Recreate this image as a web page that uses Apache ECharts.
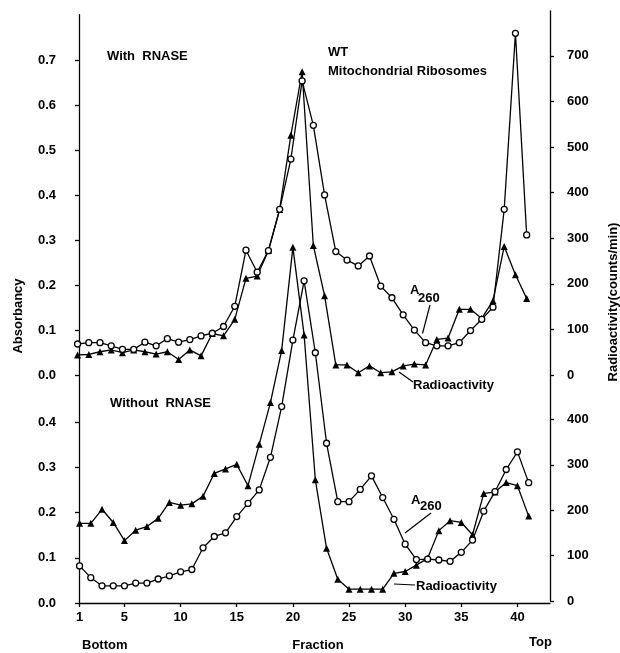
<!DOCTYPE html>
<html>
<head>
<meta charset="utf-8">
<script src="https://cdn.jsdelivr.net/npm/echarts@6/dist/echarts.min.js"></script>
<style>
  html, body { margin: 0; padding: 0; background: #fff; }
  #chart { width: 620px; height: 653px; }
</style>
</head>
<body>
<div id="chart"></div>
<script>
// fraction numbers 1..41 (bottom of gradient -> top)
const fractions = [1, 2, 3, 4, 5, 6, 7, 8, 9, 10, 11, 12, 13, 14, 15, 16, 17, 18, 19, 20,
  21, 22, 23, 24, 25, 26, 27, 28, 29, 30, 31, 32, 33, 34, 35, 36, 37, 38, 39, 40, 41];
const fractionTicks = [1, 5, 10, 15, 20, 25, 30, 35, 40];
const absTicksTop = [0, 0.1, 0.2, 0.3, 0.4, 0.5, 0.6, 0.7];
const absTicksBottom = [0, 0.1, 0.2, 0.3, 0.4];
const cpmTicksTop = [0, 100, 200, 300, 400, 500, 600, 700];
const cpmTicksBottom = [0, 100, 200, 300, 400];

// With RNASE
const withA260 = [0.069, 0.072, 0.072, 0.065, 0.057, 0.057, 0.073, 0.065, 0.081, 0.073,
  0.079, 0.087, 0.093, 0.108, 0.153, 0.278, 0.229, 0.277, 0.369, 0.481,
  0.655, 0.556, 0.401, 0.275, 0.256, 0.243, 0.265, 0.198, 0.172, 0.134,
  0.100, 0.072, 0.065, 0.065, 0.072, 0.099, 0.124, 0.151, 0.369, 0.761, 0.312];
const withCpm = [44, 45, 51, 55, 49, 55, 51, 46, 51, 34,
  55, 42, 91, 86, 122, 212, 217, 273, 363, 526,
  665, 284, 174, 22, 22, 5, 20, 5, 7, 20,
  24, 22, 78, 81, 144, 144, 124, 163, 282, 220, 168];

// Without RNASE
const withoutA260 = [0.082, 0.056, 0.038, 0.038, 0.038, 0.044, 0.044, 0.053, 0.060, 0.069,
  0.074, 0.122, 0.147, 0.155, 0.191, 0.220, 0.250, 0.322, 0.434, 0.581,
  0.712, 0.553, 0.353, 0.224, 0.224, 0.251, 0.281, 0.233, 0.185, 0.130,
  0.096, 0.097, 0.095, 0.092, 0.112, 0.139, 0.203, 0.246, 0.295, 0.334, 0.266];
const withoutCpm = [171, 171, 202, 173, 133, 156, 164, 182, 217, 211,
  214, 231, 281, 291, 301, 254, 345, 437, 552, 779,
  586, 267, 116, 48, 26, 26, 26, 26, 61, 65,
  79, 94, 155, 177, 173, 146, 237, 240, 261, 254, 187];

const FONT = 'Liberation Sans';
const chart = echarts.init(document.getElementById('chart'));

const pairs = (vals) => fractions.map((f, i) => [f, vals[i]]);

function xAxis(gridIndex, show) {
  return {
    type: 'value', gridIndex, min: 0.95, max: 42.9,
    show,
    axisLine: { show, lineStyle: { color: '#000', width: 1.3 } },
    axisTick: { show, customValues: fractionTicks, length: 4, lineStyle: { color: '#000', width: 1.3 } },
    axisLabel: { show, customValues: fractionTicks, margin: 8, color: '#000',
      fontFamily: FONT, fontSize: 13, fontWeight: 'bold' },
    splitLine: { show: false }
  };
}

function yAxis(gridIndex, position, max, ticks, opts) {
  const left = position === 'left';
  return {
    type: 'value', gridIndex, position, min: 0, max,
    offset: opts.offset || 0,
    axisLine: { show: !!opts.line, lineStyle: { color: '#000', width: 1.3 } },
    axisTick: { show: true, customValues: ticks, length: 4, lineStyle: { color: '#000', width: 1.3 } },
    axisLabel: {
      customValues: ticks, color: '#000', fontFamily: FONT, fontSize: 13, fontWeight: 'bold',
      margin: left ? 23 : 17,
      padding: left ? 0 : [0, 0, 8, 0],
      formatter: left ? (v) => v.toFixed(1) : (v) => String(v)
    },
    splitLine: { show: false }
  };
}

function a260Series(vals, idx) {
  return {
    type: 'line', xAxisIndex: idx, yAxisIndex: idx, data: pairs(vals),
    symbol: 'circle', symbolSize: 6, z: 4,
    itemStyle: { color: '#fff', borderColor: '#000', borderWidth: 1.3 },
    lineStyle: { color: '#000', width: 1.3 }
  };
}

function cpmSeries(vals, idx) {
  return {
    type: 'line', xAxisIndex: idx, yAxisIndex: idx, data: pairs(vals),
    symbol: 'triangle', symbolSize: 7, z: 3,
    itemStyle: { color: '#000' },
    lineStyle: { color: '#000', width: 1.3 }
  };
}

const txt = (text, x, y, extra) => ({
  type: 'text', x, y, rotation: (extra && extra.rotation) || 0,
  style: {
    text, fill: '#000', font: 'bold 13px "' + FONT + '"',
    align: (extra && extra.align) || 'left', verticalAlign: 'middle'
  }
});
const lead = (x1, y1, x2, y2) => ({
  type: 'line', shape: { x1, y1, x2, y2 }, style: { stroke: '#000', lineWidth: 1.2 }
});

chart.setOption({
  animation: false,
  backgroundColor: '#fff',
  grid: [
    { left: 77, right: 72, top: 15.8, bottom: 278 },   // with RNASE, A260
    { left: 77, right: 72, top: 10.2, bottom: 278 },   // with RNASE, cpm
    { left: 79, right: 70, top: 14.75, bottom: 50 },   // without RNASE, A260
    { left: 79, right: 70, top: 10.8, bottom: 52 }     // without RNASE, cpm
  ],
  xAxis: [xAxis(0, false), xAxis(1, false), xAxis(2, true), xAxis(3, false)],
  yAxis: [
    yAxis(0, 'left', 0.8, absTicksTop, { offset: -2 }),
    yAxis(1, 'right', 800, cpmTicksTop, { offset: 2 }),
    yAxis(2, 'left', 1.3, absTicksBottom, { line: true }),
    yAxis(3, 'right', 1300, cpmTicksBottom, { line: true })
  ],
  series: [
    cpmSeries(withCpm, 1),
    a260Series(withA260, 0),
    cpmSeries(withoutCpm, 3),
    a260Series(withoutA260, 2)
  ],
  graphic: [
    txt('With  RNASE', 107, 56),
    txt('WT', 328, 52),
    txt('Mitochondrial Ribosomes', 328, 71),
    txt('A', 410, 290),
    txt('260', 418, 298),
    lead(430, 305, 422.5, 333.5),
    txt('Radioactivity', 413, 385),
    lead(399, 372, 413, 382),
    txt('Without  RNASE', 110, 403),
    txt('A', 411, 500),
    txt('260', 420, 506),
    lead(431, 513, 405, 533),
    txt('Radioactivity', 416, 586),
    lead(394, 584, 415, 585),
    txt('Bottom', 82, 645),
    txt('Fraction', 318, 645, { align: 'center' }),
    txt('Top', 529, 642),
    txt('Absorbancy', 18, 316, { align: 'center', rotation: Math.PI / 2 }),
    txt('Radioactivity(counts/min)', 613, 302, { align: 'center', rotation: Math.PI / 2 })
  ]
});
</script>
</body>
</html>
